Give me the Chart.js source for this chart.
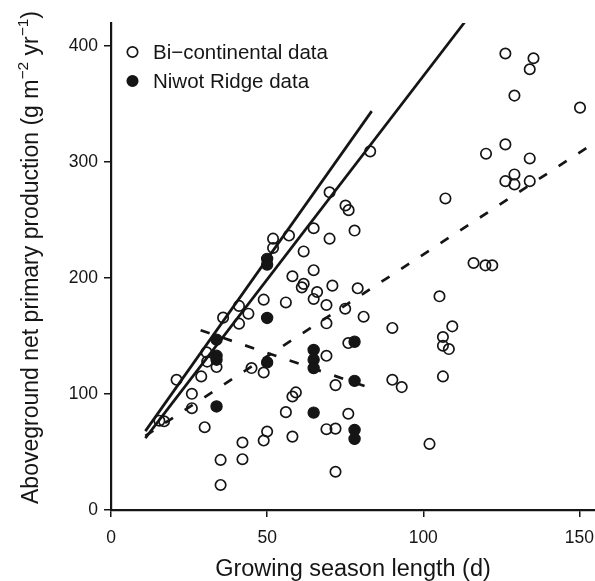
<!DOCTYPE html>
<html>
<head>
<meta charset="utf-8">
<script src="https://cdn.jsdelivr.net/npm/chart.js@4.4.1/dist/chart.umd.min.js"></script>
<style>
  body { margin: 0; background: #fff; }
  canvas { display: block; }
</style>
</head>
<body>
<canvas id="chart" width="595" height="581"></canvas>
<script>
// Bi-continental data (growing season length, ANPP)
const biDias = [70.0, 75.1, 76.1, 64.9, 70.0, 61.7, 57.0, 51.9, 51.9, 58.1,
                64.9, 61.7, 61.1, 66.0, 64.9, 70.9, 69.0, 75.0, 69.0, 76.0,
                69.0, 71.9, 76.0, 69.0, 71.9, 71.9, 48.9, 56.0, 41.0, 44.0,
                41.0, 35.9, 30.6, 30.8, 33.8, 28.9, 21.0, 25.9, 25.9, 30.0,
                15.5, 17.0, 45.0, 48.9, 59.2, 58.1, 56.0, 50.0, 48.9, 58.1,
                42.1, 42.1, 35.1, 35.1, 83.0, 78.0, 107.1, 120.1, 126.3, 134.1,
                126.3, 129.2, 129.2, 134.1, 126.3, 135.3, 134.1, 129.2, 150.2, 116.1,
                119.9, 122.1, 79.0, 80.9, 105.2, 90.1, 109.3, 106.3, 106.3, 108.2,
                106.3, 90.1, 93.1, 102.0];
const biAnpp = [274, 262.6, 258.6, 243, 234, 223, 236.7, 234, 226, 201.6,
                206.8, 195, 192, 188, 182, 193.5, 176.8, 173.6, 161, 144,
                133, 107.7, 83, 69.7, 70.2, 33, 181.4, 179, 176, 169.3,
                160.7, 165.9, 136, 128, 123.3, 115.2, 112.3, 100.2, 87.8, 71.4,
                77, 76.5, 122.4, 118.6, 101.4, 97.9, 84.4, 67.7, 59.9, 63.3,
                58.2, 43.8, 43.2, 21.6, 309.3, 241, 268.7, 307.3, 315.3, 303.2,
                283.6, 289.4, 280.8, 283.6, 393.7, 389.6, 380.1, 357.4, 347, 213,
                211, 211, 191.2, 166.7, 184.3, 157, 158.4, 149.2, 141.7, 138.8,
                115.2, 112.3, 106, 57];

// Niwot Ridge data
const niwotDias = [33.8, 33.8, 33.8, 33.8, 50, 50, 50, 50,
                   64.9, 64.9, 64.9, 64.9, 78, 78, 78, 78];
const niwotAnpp = [146.9, 133, 129.6, 89.3, 216.6, 211.7, 165.6, 127.3,
                   138, 129.6, 122.4, 84, 145.1, 111.4, 69.1, 61.3];

// fitted lines (end points)
const ajusteNiwotX = [11, 83.5];
const ajusteNiwotY = [68, 344];
const ajusteBiX = [11, 113.2];
const ajusteBiY = [62, 420.5];
const ajusteBiDashX = [11, 155];
const ajusteBiDashY = [64, 317];
const ajusteNiwotDashX = [28.7, 81.2];
const ajusteNiwotDashY = [155, 107];

const etiquetasLeyenda = ["Bi\u2212continental data", "Niwot Ridge data"];
const ticksX = [0, 50, 100, 150];
const ticksY = [0, 100, 200, 300, 400];

const tinta = "#151515";
const fuente = "'Liberation Sans', Arial, sans-serif";

function puntos(xs, ys) {
    return xs.map((x, i) => ({ x: x, y: ys[i] }));
}

function linea(xs, ys, dash) {
    return {
        data: puntos(xs, ys),
        showLine: true,
        borderColor: tinta,
        borderWidth: 2.7,
        borderDash: dash,
        pointRadius: 0,
        pointHoverRadius: 0,
        fill: false
    };
}

// axis titles (with superscripts) and legend, drawn on the canvas
const textosExtra = {
    id: "textosExtra",
    afterDraw(chart) {
        const ctx = chart.ctx;
        const area = chart.chartArea;
        ctx.save();
        ctx.fillStyle = tinta;

        // x title
        ctx.font = "23.5px " + fuente;
        ctx.textAlign = "center";
        ctx.textBaseline = "alphabetic";
        ctx.fillText("Growing season length (d)", (area.left + area.right) / 2, 576);

        // y title
        const partes = [
            ["Aboveground net primary production (g m", false],
            ["\u22122", true],
            [" yr", false],
            ["\u22121", true],
            [")", false]
        ];
        const tamNormal = 23, tamSup = 15.5;
        let total = 0;
        partes.forEach(p => {
            ctx.font = (p[1] ? tamSup : tamNormal) + "px " + fuente;
            total += ctx.measureText(p[0]).width;
        });
        ctx.translate(38, 257.5 + total / 2);
        ctx.rotate(-Math.PI / 2);
        ctx.textAlign = "left";
        let pos = 0;
        partes.forEach(p => {
            ctx.font = (p[1] ? tamSup : tamNormal) + "px " + fuente;
            ctx.fillText(p[0], pos, p[1] ? -10 : 0);
            pos += ctx.measureText(p[0]).width;
        });
        ctx.setTransform(1, 0, 0, 1, 0, 0);

        // legend
        const filas = [52, 81];
        ctx.font = "20.5px " + fuente;
        ctx.textAlign = "left";
        ctx.textBaseline = "middle";
        filas.forEach((y, i) => {
            ctx.beginPath();
            ctx.arc(132.5, y, 5.2, 0, Math.PI * 2);
            ctx.lineWidth = 1.7;
            ctx.strokeStyle = tinta;
            if (i === 1) { ctx.fill(); }
            ctx.stroke();
            ctx.fillText(etiquetasLeyenda[i], 153, y + 1);
        });
        ctx.restore();
    }
};

const ctx = document.getElementById("chart").getContext("2d");

new Chart(ctx, {
    type: "scatter",
    data: {
        datasets: [
            {
                label: etiquetasLeyenda[0],
                data: puntos(biDias, biAnpp),
                pointRadius: 5.2,
                pointBorderWidth: 1.7,
                pointBorderColor: tinta,
                pointBackgroundColor: "rgba(0,0,0,0)"
            },
            {
                label: etiquetasLeyenda[1],
                data: puntos(niwotDias, niwotAnpp),
                pointRadius: 5.6,
                pointBorderWidth: 1.2,
                pointBorderColor: tinta,
                pointBackgroundColor: tinta
            },
            linea(ajusteNiwotX, ajusteNiwotY, []),
            linea(ajusteBiX, ajusteBiY, []),
            linea(ajusteBiDashX, ajusteBiDashY, [9.5, 14]),
            linea(ajusteNiwotDashX, ajusteNiwotDashY, [9.5, 14])
        ]
    },
    options: {
        responsive: false,
        devicePixelRatio: 1,
        animation: false,
        layout: { autoPadding: false, padding: { top: 23, right: 0, left: 0, bottom: 0 } },
        plugins: {
            legend: { display: false },
            tooltip: { enabled: false },
            title: { display: false }
        },
        scales: {
            x: {
                type: "linear",
                min: 0,
                max: 155,
                afterFit(s) {
                    s.height = 71;
                    s.paddingLeft = 0;
                    s.paddingRight = 0;
                },
                afterBuildTicks(s) { s.ticks = ticksX.map(v => ({ value: v })); },
                ticks: {
                    color: tinta,
                    font: { family: fuente, size: 17.5 },
                    padding: 11,
                    maxRotation: 0
                },
                grid: {
                    display: true,
                    drawOnChartArea: false,
                    drawTicks: true,
                    tickLength: 7,
                    color: tinta,
                    lineWidth: 1.5
                },
                border: { display: true, color: tinta, width: 2.2 }
            },
            y: {
                type: "linear",
                min: 0,
                max: 420,
                afterFit(s) {
                    s.width = 111;
                    s.paddingTop = 0;
                    s.paddingBottom = 0;
                },
                afterBuildTicks(s) { s.ticks = ticksY.map(v => ({ value: v })); },
                ticks: {
                    color: tinta,
                    font: { family: fuente, size: 17.5 },
                    padding: 6
                },
                grid: {
                    display: true,
                    drawOnChartArea: false,
                    drawTicks: true,
                    tickLength: 7,
                    color: tinta,
                    lineWidth: 1.5
                },
                border: { display: true, color: tinta, width: 2.2 }
            }
        }
    },
    plugins: [textosExtra]
});
</script>
</body>
</html>
